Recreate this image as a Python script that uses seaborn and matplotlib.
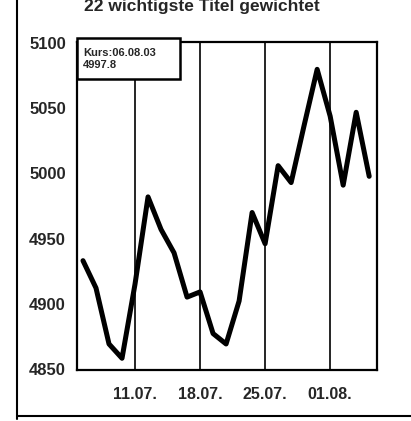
import numpy as np
import pandas as pd
import matplotlib
matplotlib.use("Agg")
import matplotlib.pyplot as plt
from matplotlib.lines import Line2D
from matplotlib.patches import Rectangle
import seaborn as sns

# Handelstage 07.07.2003 - 06.08.2003
tage = ["07.07.", "08.07.", "09.07.", "10.07.", "11.07.",
        "14.07.", "15.07.", "16.07.", "17.07.", "18.07.",
        "21.07.", "22.07.", "23.07.", "24.07.", "25.07.",
        "28.07.", "29.07.", "30.07.", "31.07.", "01.08.",
        "04.08.", "05.08.", "06.08."]
kurs = [4933, 4912, 4869, 4858, 4915,
        4982, 4957, 4939, 4905, 4909,
        4877, 4869, 4902, 4970, 4946,
        5006, 4993, 5037, 5080, 5044,
        4991, 5047, 4997.8]
tick_tage = ["11.07.", "18.07.", "25.07.", "01.08."]
y_ticks = [4850, 4900, 4950, 5000, 5050, 5100]
titel = "22 wichtigste Titel gewichtet"
info = "Kurs:06.08.03\n4997.8"

df = pd.DataFrame({"tag": np.arange(len(tage)), "kurs": kurs})
tick_pos = [tage.index(t) for t in tick_tage]

sns.set_style("white")
plt.rcParams["font.family"] = ["Liberation Sans", "DejaVu Sans"]

fig = plt.figure(figsize=(4.11, 4.21), dpi=100)
ax = fig.add_axes([77 / 411, 51 / 421, 300 / 411, 328 / 421])

for p in tick_pos:
    ax.axvline(p, color="black", lw=1.2, zorder=1)

sns.lineplot(data=df, x="tag", y="kurs", color="black", lw=3.6, ax=ax, zorder=3)

ax.set_xlim(-0.46, 22.6)
ax.set_ylim(4849, 5101)
ax.set_xticks(tick_pos)
ax.set_xticklabels(tick_tage)
ax.set_yticks(y_ticks)
ax.set_xlabel("")
ax.set_ylabel("")
ax.tick_params(axis="y", direction="out", length=8, width=1.3, color="black",
               labelsize=12, pad=0)
ax.tick_params(axis="x", direction="out", length=6, width=1.3, color="black",
               labelsize=11.5, pad=6)
for lab in ax.get_xticklabels() + ax.get_yticklabels():
    lab.set_fontweight("bold")
# keine Striche an 4850 und 5100
yt = ax.yaxis.get_major_ticks()
yt[0].tick1line.set_visible(False)
yt[-1].tick1line.set_visible(False)
for s in ax.spines.values():
    s.set_color("black")
    s.set_linewidth(1.6)

# Info-Kasten oben links
ax.add_patch(Rectangle((0, 0.887), 0.343, 0.125, transform=ax.transAxes,
                       facecolor="white", edgecolor="black", lw=1.8,
                       zorder=4, clip_on=False))
ax.text(0.02, 0.982, info, transform=ax.transAxes, fontsize=8,
        fontweight="bold", va="top", ha="left", linespacing=1.3, zorder=5)

fig.text(0.492, 1 - 11 / 421, titel, ha="center", va="baseline",
         fontsize=12.5, fontweight="bold")

fig.add_artist(Line2D([17 / 411, 17 / 411], [0.005, 1.0], color="black", lw=1.5))
fig.add_artist(Line2D([17 / 411, 1.0], [5 / 421, 5 / 421], color="black", lw=1.5))

fig.savefig("out.png", dpi=100)
